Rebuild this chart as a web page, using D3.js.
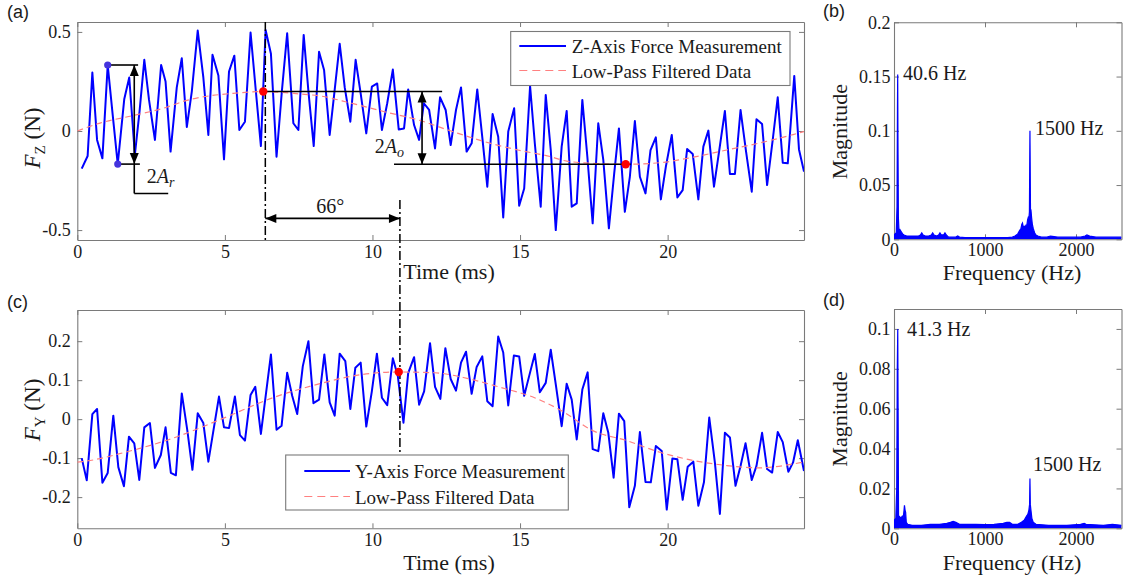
<!DOCTYPE html>
<html>
<head>
<meta charset="utf-8">
<script src="https://cdn.jsdelivr.net/npm/d3@7"></script>
<style>
  body { margin: 0; background: #fff; }
  svg { display: block; }
</style>
</head>
<body>
<svg id="fig" width="1131" height="581"></svg>
<script>
// ---------- data ----------
// Z-axis force samples: [time (ms), force (N)]
const fzMeasured = [
  [0.15,-0.19],[0.35,-0.126],[0.51,0.295],[0.67,-0.045],[0.85,-0.138],[1.03,0.333],[1.20,0.08],[1.37,-0.167],
  [1.59,0.16],[1.76,0.27],[1.95,-0.12],[2.11,0.1],[2.27,0.359],[2.43,0.157],[2.63,-0.045],[2.84,0.333],
  [2.99,0.25],[3.16,-0.104],[3.37,0.22],[3.54,0.367],[3.71,0.02],[3.88,0.2],[4.08,0.507],[4.27,0.27],
  [4.44,-0.02],[4.58,0.385],[4.78,0.28],[4.97,-0.143],[5.14,0.3],[5.32,0.38],[5.49,0.005],[5.68,0.047],
  [5.87,0.497],[6.05,0.2],[6.22,-0.076],[6.38,0.51],[6.56,0.39],[6.75,-0.13],[6.93,0.2],[7.11,0.493],
  [7.32,0.039],[7.49,0.005],[7.67,0.485],[7.83,0.2],[8.01,-0.076],[8.19,0.40],[8.36,0.308],[8.55,-0.02],
  [8.72,0.207],[8.89,0.44],[9.06,0.22],[9.25,0.047],[9.43,0.359],[9.60,0.19],[9.79,-0.012],[9.98,0.224],
  [10.16,0.24],[10.32,0.005],[10.50,0.14],[10.69,0.31],[10.89,0.008],[11.07,0.013],[11.21,0.21],[11.41,0.03],
  [11.58,-0.045],[11.74,0.14],[11.92,0.106],[12.12,-0.088],[12.29,0.17],[12.48,0.106],[12.65,-0.071],[12.83,0.106],
  [13.00,0.22],[13.19,-0.104],[13.36,-0.062],[13.55,0.21],[13.73,-0.045],[13.89,-0.281],[14.07,0.086],[14.26,-0.029],
  [14.43,-0.436],[14.60,-0.003],[14.80,0.115],[14.97,-0.377],[15.14,-0.29],[15.34,0.227],[15.50,-0.062],[15.70,-0.382],
  [15.87,0.182],[16.04,-0.096],[16.21,-0.5],[16.41,-0.079],[16.58,0.101],[16.75,-0.382],[16.92,-0.365],[17.11,0.157],
  [17.28,-0.13],[17.46,-0.466],[17.65,0.039],[17.82,-0.146],[18.01,-0.491],[18.19,-0.214],[18.35,0.013],[18.55,-0.408],
  [18.72,-0.231],[18.89,0.05],[19.06,-0.231],[19.25,-0.315],[19.42,-0.096],[19.60,-0.032],[19.77,-0.345],[19.94,-0.18],
  [20.14,-0.02],[20.33,-0.335],[20.51,-0.298],[20.66,-0.091],[20.85,-0.116],[21.04,-0.345],[21.21,-0.079],[21.38,0.002],
  [21.57,-0.281],[21.75,-0.096],[21.94,0.101],[22.11,-0.217],[22.28,-0.217],[22.47,0.106],[22.65,-0.096],[22.85,-0.306],
  [23.01,0.059],[23.20,0.035],[23.37,-0.273],[23.56,-0.045],[23.73,0.17],[23.90,-0.16],[24.07,-0.163],[24.29,0.278],
  [24.45,-0.093],[24.62,-0.205]
];
const fzFiltered = [
  [0,0.0],[0.77,0.04],[1.95,0.08],[3.03,0.12],[3.65,0.152],[4.18,0.17],[5.28,0.19],[6.30,0.199],[7.54,0.187],
  [8.22,0.177],[9.24,0.142],[10.41,0.097],[11.54,0.056],[12.66,0.0],[13.80,-0.054],[14.93,-0.096],[16.05,-0.13],
  [16.58,-0.152],[17.71,-0.165],[18.58,-0.168],[19.74,-0.16],[20.87,-0.132],[22.0,-0.096],[23.13,-0.06],
  [24.25,-0.018],[24.62,-0.003]
];

// Y-axis force samples: [time (ms), force (N)]
const fyMeasured = [
  [0.15,-0.10],[0.32,-0.157],[0.51,0.013],[0.67,0.026],[0.85,-0.163],[1.03,-0.138],[1.22,0.009],[1.39,-0.123],
  [1.58,-0.172],[1.75,-0.045],[1.93,-0.062],[2.10,-0.156],[2.27,-0.021],[2.46,-0.01],[2.63,-0.125],[2.83,-0.092],
  [2.99,-0.021],[3.17,-0.138],[3.34,-0.144],[3.54,0.066],[3.73,-0.03],[3.90,-0.13],[4.08,0.015],[4.27,-0.01],
  [4.44,-0.109],[4.61,-0.03],[4.80,0.058],[4.97,-0.021],[5.14,-0.023],[5.34,0.058],[5.51,-0.041],[5.68,-0.055],
  [5.87,0.062],[6.03,0.083],[6.22,-0.038],[6.39,0.064],[6.56,0.166],[6.75,-0.027],[6.92,-0.017],[7.11,0.119],
  [7.28,0.06],[7.45,0.013],[7.64,0.136],[7.83,0.20],[8.00,0.041],[8.19,0.05],[8.37,0.166],[8.55,0.043],
  [8.72,0.009],[8.89,0.168],[9.08,0.149],[9.25,0.026],[9.42,0.132],[9.60,0.145],[9.79,-0.019],[9.98,0.072],
  [10.15,0.168],[10.32,0.055],[10.50,0.036],[10.69,0.156],[10.86,0.11],[11.05,-0.009],[11.21,0.118],[11.41,0.159],
  [11.58,0.037],[11.75,0.071],[11.95,0.195],[12.12,0.083],[12.30,0.052],[12.47,0.182],[12.65,0.103],[12.83,0.073],
  [13.00,0.145],[13.17,0.173],[13.36,0.065],[13.53,0.134],[13.72,0.161],[13.89,0.046],[14.07,0.033],[14.26,0.212],
  [14.43,0.171],[14.60,0.035],[14.79,0.163],[14.97,0.161],[15.14,0.06],[15.31,0.111],[15.50,0.167],[15.67,0.069],
  [15.87,0.093],[16.04,0.178],[16.22,0.084],[16.41,-0.018],[16.58,0.091],[16.75,0.05],[16.92,-0.052],[17.11,0.076],
  [17.29,0.12],[17.46,-0.077],[17.65,-0.082],[17.82,0.015],[17.99,-0.035],[18.17,-0.15],[18.35,0.014],[18.53,-0.005],
  [18.70,-0.226],[18.89,-0.171],[19.06,-0.033],[19.25,-0.161],[19.43,-0.162],[19.60,-0.069],[19.80,-0.082],[19.97,-0.232],
  [20.16,-0.101],[20.33,-0.103],[20.51,-0.207],[20.68,-0.122],[20.87,-0.109],[21.04,-0.222],[21.23,-0.162],[21.41,0.004],
  [21.60,-0.111],[21.77,-0.243],[21.94,-0.035],[22.11,-0.047],[22.30,-0.171],[22.47,-0.12],[22.64,-0.062],[22.85,-0.156],
  [23.01,-0.12],[23.20,-0.035],[23.37,-0.128],[23.54,-0.137],[23.73,-0.033],[23.90,-0.059],[24.09,-0.135],[24.25,-0.111],
  [24.41,-0.054],[24.62,-0.133]
];
const fyFiltered = [
  [0,-0.11],[0.15,-0.109],[1.62,-0.085],[3.31,-0.047],[5.0,0.004],[6.70,0.057],[8.22,0.091],[9.28,0.11],
  [10.89,0.121],[12.11,0.119],[13.24,0.104],[14.36,0.081],[15.49,0.055],[16.42,0.021],[17.48,-0.03],
  [18.61,-0.055],[19.74,-0.085],[20.87,-0.106],[22.0,-0.119],[23.12,-0.125],[24.25,-0.115],[24.62,-0.11]
];

// Spectra: [frequency (Hz), magnitude]
const fzSpectrum = [
  [0,0.004],[12,0.005],[25,0.006],[33,0.03],[38,0.12],[40.6,0.152],[43,0.1],[48,0.02],[55,0.008],[65,0.009],
  [80,0.007],[95,0.005],[110,0.004],[140,0.003],[180,0.003],[230,0.003],[270,0.003],[290,0.004],[305,0.006],
  [320,0.004],[345,0.003],[380,0.003],[410,0.004],[425,0.006],[440,0.004],[470,0.003],[490,0.004],[505,0.006],
  [520,0.004],[545,0.004],[560,0.006],[575,0.004],[600,0.002],[640,0.002],[680,0.002],[700,0.003],[720,0.002],
  [780,0.0015],[900,0.0015],[1050,0.0015],[1200,0.0015],[1250,0.0015],[1300,0.002],[1330,0.003],[1360,0.005],
  [1380,0.008],[1395,0.01],[1405,0.014],[1412,0.015],[1420,0.011],[1430,0.012],[1440,0.011],[1450,0.013],
  [1460,0.013],[1468,0.018],[1475,0.02],[1482,0.019],[1488,0.025],[1494,0.1],[1500,0.025],[1506,0.026],
  [1512,0.02],[1520,0.014],[1530,0.01],[1545,0.006],[1560,0.004],[1580,0.003],[1620,0.002],[1680,0.002],
  [1720,0.003],[1800,0.002],[1900,0.002],[1980,0.002],[2050,0.002],[2100,0.003],[2120,0.004],[2150,0.003],
  [2220,0.002],[2300,0.002],[2380,0.002],[2450,0.002],[2500,0.002]
];
const fySpectrum = [
  [0,0.004],[20,0.005],[30,0.02],[36,0.08],[41.3,0.1],[45,0.06],[50,0.006],[60,0.006],[75,0.005],[90,0.006],
  [100,0.005],[108,0.008],[115,0.0115],[122,0.009],[128,0.008],[135,0.003],[150,0.002],[200,0.0015],[300,0.0015],
  [400,0.002],[500,0.002],[580,0.0025],[620,0.003],[650,0.0035],[680,0.003],[720,0.002],[800,0.002],[900,0.002],
  [1000,0.0018],[1100,0.002],[1200,0.0025],[1240,0.003],[1270,0.003],[1300,0.002],[1360,0.002],[1400,0.003],
  [1430,0.004],[1455,0.006],[1470,0.007],[1482,0.009],[1490,0.012],[1494,0.025],[1498,0.012],[1505,0.009],
  [1515,0.005],[1530,0.003],[1560,0.002],[1700,0.0015],[1900,0.0015],[2050,0.002],[2090,0.0025],[2110,0.002],
  [2300,0.0015],[2400,0.002],[2500,0.0015]
];

// tick values
const timeTicks = [0, 5, 10, 15, 20];
const fzTicks = [-0.5, 0, 0.5];
const fyTicks = [-0.2, -0.1, 0, 0.1, 0.2];
const freqTicks = [0, 1000, 2000];
const magTicksB = [0, 0.05, 0.1, 0.15, 0.2];
const magTicksD = [0, 0.02, 0.04, 0.06, 0.08, 0.1];

// annotated points
const ampPeak = [1.03, 0.333], ampTrough = [1.37, -0.167];
const lowPeakZ = [6.30, 0.199], lowTroughZ = [18.58, -0.168];
const lowPeakY = [10.89, 0.121];

// ---------- drawing ----------
const SERIF = '"Liberation Serif","Times New Roman",serif';
const SANS = '"Liberation Sans",Arial,sans-serif';
const BLUE = "#0000ff", RED = "#ff0000", PINK = "#ff8080", FRAME = "#7a7a7a";
const svg = d3.select("#fig");

const xA = d3.scaleLinear().domain([0, 24.62]).range([77.3, 804]);
const yA = d3.scaleLinear().domain([-0.55, 0.55]).range([240, 22]);
const xC = xA.copy();
const yC = d3.scaleLinear().domain([-0.28, 0.28]).range([528.3, 310]);
const xB = d3.scaleLinear().domain([0, 2500]).range([894, 1121.5]);
const yB = d3.scaleLinear().domain([0, 0.2]).range([239.3, 22.3]);
const xD = xB.copy();
const yD = d3.scaleLinear().domain([0, 0.11]).range([528.3, 309]);

function frame(x, y, xTicks, yTicks, xPad, yPad, id) {
  const g = svg.append("g");
  const [x0, x1] = x.range(), [y0, y1] = y.range();
  const axes = [
    [d3.axisBottom(x).tickValues(xTicks).tickFormat(String).tickPadding(xPad), `translate(0,${y0})`],
    [d3.axisTop(x).tickValues(xTicks).tickFormat(""), `translate(0,${y1})`],
    [d3.axisLeft(y).tickValues(yTicks).tickFormat(String).tickPadding(yPad), `translate(${x0},0)`],
    [d3.axisRight(y).tickValues(yTicks).tickFormat(""), `translate(${x1},0)`]
  ];
  axes.forEach(([ax, tr]) => {
    const a = g.append("g").attr("transform", tr).call(ax.tickSize(-5).tickSizeOuter(0));
    a.select(".domain").attr("stroke", FRAME).attr("stroke-width", 1.1);
    a.selectAll(".tick line").attr("stroke", FRAME).attr("stroke-width", 1);
    a.selectAll("text").style("font-family", SERIF).style("font-size", "18px").attr("fill", "#1a1a1a");
  });
  svg.append("clipPath").attr("id", id).append("rect")
    .attr("x", x0).attr("y", y1).attr("width", x1 - x0).attr("height", y0 - y1);
  return g;
}

function timePanel(x, y, ticks, measured, filtered, id) {
  frame(x, y, timeTicks, ticks, 5, 6.5, id);
  const plot = svg.append("g").attr("clip-path", `url(#${id})`);
  plot.append("path").datum(measured)
    .attr("d", d3.line().x(d => x(d[0])).y(d => y(d[1])))
    .attr("fill", "none").attr("stroke", BLUE).attr("stroke-width", 2).attr("stroke-linejoin", "round");
  plot.append("path").datum(filtered)
    .attr("d", d3.line().curve(d3.curveMonotoneX).x(d => x(d[0])).y(d => y(d[1])))
    .attr("fill", "none").attr("stroke", PINK).attr("stroke-width", 1.2).attr("stroke-dasharray", "6,4");
}

function specPanel(x, y, ticks, spec, id) {
  frame(x, y, freqTicks, ticks, 3.5, 3.5, id);
  const plot = svg.append("g").attr("clip-path", `url(#${id})`);
  plot.append("path").datum(spec)
    .attr("d", d3.area().x(d => x(d[0])).y0(y(0)).y1(d => y(d[1])))
    .attr("fill", BLUE);
  plot.append("path").datum(spec)
    .attr("d", d3.line().x(d => x(d[0])).y(d => y(d[1])))
    .attr("fill", "none").attr("stroke", BLUE).attr("stroke-width", 1.2);
}

timePanel(xA, yA, fzTicks, fzMeasured, fzFiltered, "clipA");
timePanel(xC, yC, fyTicks, fyMeasured, fyFiltered, "clipC");
specPanel(xB, yB, magTicksB, fzSpectrum, "clipB");
specPanel(xD, yD, magTicksD, fySpectrum, "clipD");

// ---------- text helpers ----------
function txt(x, y, s, size, opts = {}) {
  return svg.append("text").attr("x", x).attr("y", y).text(s)
    .style("font-family", opts.family || SERIF).style("font-size", size + "px")
    .attr("text-anchor", opts.anchor || "start").attr("fill", opts.fill || "#1a1a1a");
}

// panel letters
txt(7, 18, "(a)", 18, {family: SANS});
txt(823, 17, "(b)", 18, {family: SANS});
txt(7, 308, "(c)", 18, {family: SANS});
txt(823, 306, "(d)", 18, {family: SANS});

// axis titles
txt(449, 279, "Time (ms)", 22, {anchor: "middle"});
txt(449, 570, "Time (ms)", 22, {anchor: "middle"});
txt(1012, 280, "Frequency (Hz)", 22, {anchor: "middle"});
txt(1012, 570, "Frequency (Hz)", 22, {anchor: "middle"});

function magLabel(cy) {
  svg.append("text").attr("transform", `translate(847,${cy}) rotate(-90)`)
    .attr("text-anchor", "middle").style("font-family", SERIF).style("font-size", "22px")
    .attr("fill", "#1a1a1a").text("Magnitude");
}
magLabel(131.7);
magLabel(419);

function forceLabel(cy, sub) {
  const t = svg.append("text").attr("transform", `translate(40,${cy}) rotate(-90)`)
    .attr("text-anchor", "middle").style("font-family", SERIF).style("font-size", "23px")
    .attr("fill", "#1a1a1a");
  t.append("tspan").style("font-style", "italic").text("F");
  t.append("tspan").attr("dy", 5).style("font-size", "15px").text(sub);
  t.append("tspan").attr("dy", -5).text(" (N)");
}
forceLabel(138, "Z");
forceLabel(410, "Y");

// spectrum peak labels
txt(903, 80, "40.6 Hz", 20);
txt(1035, 135, "1500 Hz", 20);
txt(907, 336, "41.3 Hz", 20);
txt(1033, 471, "1500 Hz", 20);

// ---------- legends ----------
function legend(x0, y0, w, h, label1, label2, r1, r2, lineX0, lineX1, textX) {
  svg.append("rect").attr("x", x0).attr("y", y0).attr("width", w).attr("height", h)
    .attr("fill", "#fff").attr("stroke", FRAME).attr("stroke-width", 1.1);
  svg.append("line").attr("x1", lineX0).attr("x2", lineX1).attr("y1", r1).attr("y2", r1)
    .attr("stroke", BLUE).attr("stroke-width", 2);
  svg.append("line").attr("x1", lineX0).attr("x2", lineX1).attr("y1", r2).attr("y2", r2)
    .attr("stroke", PINK).attr("stroke-width", 1.2).attr("stroke-dasharray", "8,5");
  txt(textX, r1 + 7, label1, 19);
  txt(textX, r2 + 7, label2, 19);
}
legend(510.7, 31.5, 279.3, 54, "Z-Axis Force Measurement", "Low-Pass Filtered Data", 46, 70.5, 519.3, 566, 571.7);
legend(285.7, 455, 282.6, 55, "Y-Axis Force Measurement", "Low-Pass Filtered Data", 471, 496.5, 304.3, 350, 355);

// ---------- annotations ----------
const ann = svg.append("g");
function seg(x1, y1, x2, y2, w = 1.6, dash = null) {
  const l = ann.append("line").attr("x1", x1).attr("y1", y1).attr("x2", x2).attr("y2", y2)
    .attr("stroke", "#000").attr("stroke-width", w);
  if (dash) l.attr("stroke-dasharray", dash);
  return l;
}
function head(tx, ty, dx, dy, len = 11, half = 4.5) {
  // dx,dy: unit direction the arrow points towards
  const bx = tx - dx * len, by = ty - dy * len;
  const px = -dy * half, py = dx * half;
  ann.append("path").attr("d", `M${tx},${ty}L${bx + px},${by + py}L${bx - px},${by - py}Z`).attr("fill", "#000");
}
function dbl(x1, y1, x2, y2) {
  seg(x1, y1, x2, y2);
  const L = Math.hypot(x2 - x1, y2 - y1), ux = (x2 - x1) / L, uy = (y2 - y1) / L;
  head(x2, y2, ux, uy);
  head(x1, y1, -ux, -uy);
}

// dash-dot reference lines
const DASHDOT = "9,3,2,3";
seg(xA(6.37), yA.range()[1], xA(6.37), yA.range()[0], 1.5, DASHDOT);
seg(xA(10.93), yA(-0.348), xA(10.93), yC(-0.084), 1.5, DASHDOT);

// phase arrow
dbl(xA(6.37), yA(-0.441), xA(10.93), yA(-0.441));
txt(xA(8.57), 213, "66°", 20, {anchor: "middle"});

// 2A_r (ripple amplitude)
seg(xA(ampPeak[0]), yA(ampPeak[1]), xA(2.06), yA(ampPeak[1]));
seg(xA(ampTrough[0]), yA(ampTrough[1]), xA(2.12), yA(ampTrough[1]));
dbl(xA(1.93), yA(ampPeak[1]), xA(1.93), yA(ampTrough[1]));
seg(xA(1.93), yA(ampTrough[1]), xA(1.93), yA(-0.315));
seg(xA(1.93), yA(-0.315), xA(3.08), yA(-0.315));
{
  const t = txt(146.7, 183, "", 20);
  t.append("tspan").text("2");
  t.append("tspan").style("font-style", "italic").text("A");
  t.append("tspan").attr("dy", 4).style("font-style", "italic").style("font-size", "14px").text("r");
}

// 2A_o (oscillation amplitude)
seg(xA(lowPeakZ[0]), yA(lowPeakZ[1]), xA(12.36), yA(lowPeakZ[1]));
seg(xA(10.73), yA(lowTroughZ[1]), xA(18.75), yA(lowTroughZ[1]));
dbl(xA(11.68), yA(lowPeakZ[1]), xA(11.68), yA(lowTroughZ[1]));
{
  const t = txt(374.7, 153, "", 20);
  t.append("tspan").text("2");
  t.append("tspan").style("font-style", "italic").text("A");
  t.append("tspan").attr("dy", 4).style("font-style", "italic").style("font-size", "14px").text("o");
}

// markers
ann.append("circle").attr("cx", xA(ampPeak[0])).attr("cy", yA(ampPeak[1])).attr("r", 3.6).attr("fill", "#4433dd");
ann.append("circle").attr("cx", xA(ampTrough[0])).attr("cy", yA(ampTrough[1])).attr("r", 3.6).attr("fill", "#4433dd");
ann.append("circle").attr("cx", xA(lowPeakZ[0])).attr("cy", yA(lowPeakZ[1])).attr("r", 4.2).attr("fill", RED);
ann.append("circle").attr("cx", xA(lowTroughZ[0])).attr("cy", yA(lowTroughZ[1])).attr("r", 4.2).attr("fill", RED);
ann.append("circle").attr("cx", xC(lowPeakY[0])).attr("cy", yC(lowPeakY[1])).attr("r", 4.2).attr("fill", RED);
</script>
</body>
</html>
